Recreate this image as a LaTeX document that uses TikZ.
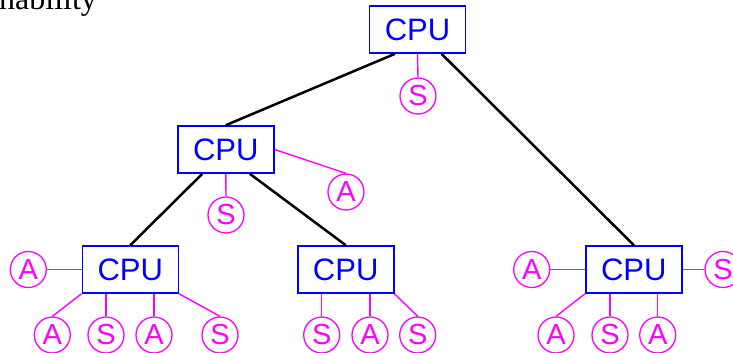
\documentclass[tikz,border=0pt]{standalone}
\usepackage{fontspec}
\newfontfamily\sansf{Liberation Sans}
\newfontfamily\seriff{Liberation Serif}
\definecolor{cpublue}{RGB}{0,0,255}
\definecolor{unitmag}{RGB}{255,0,255}
\tikzset{
  cpu/.style={draw=cpublue, line width=1.6pt, text=cpublue, minimum width=96pt,
    minimum height=47pt, inner sep=0pt, font=\sansf\fontsize{31}{31}\selectfont},
  unit/.style={circle, draw=unitmag, line width=1.3pt, text=unitmag, minimum size=36pt,
    inner sep=0pt, font=\sansf\fontsize{29}{29}\selectfont},
  link/.style={black, line width=2.5pt},
  attach/.style={unitmag, line width=1.4pt},
}
\begin{document}
\begin{tikzpicture}[x=1pt, y=-1pt]
\useasboundingbox (0,0) rectangle (733,353);
\clip (0,0) rectangle (733,353);

% partial heading at the top left
\node[anchor=base west, inner sep=0pt, font=\seriff\fontsize{32}{32}\selectfont] (head) at (-1,10) {nability};

% processors
\node[cpu] (top) at (417.5,29.5) {CPU};
\node[cpu] (mid) at (225.8,149.5) {CPU};
\node[cpu] (bl) at (130.3,269.5) {CPU};
\node[cpu] (bm) at (345.7,269.5) {CPU};
\node[cpu] (br) at (633.8,269.5) {CPU};

% tree links
\draw[link] ([xshift=-22.5pt]top.south) -- (mid.north);
\draw[link] ([xshift=24pt]top.south) -- (br.north);
\draw[link] ([xshift=-23.5pt]mid.south) -- (bl.north);
\draw[link] ([xshift=24pt]mid.south) -- (bm.north);

% units on the top processor
\node[unit] (tS) at (418,96) {S};
\draw[attach] (top.south) -- (tS.north);

% units on the middle processor
\node[unit] (mS) at (226,215) {S};
\node[unit] (mA) at (346,192) {A};
\draw[attach] (mid.south) -- (mS.north);
\draw[attach] (mid.east) -- (mA.north);

% units on the bottom-left processor
\node[unit] (blA0) at (28.3,269.5) {A};
\node[unit] (blA1) at (52.3,335) {A};
\node[unit] (blS1) at (106,335) {S};
\node[unit] (blA2) at (154,335) {A};
\node[unit] (blS2) at (220,335) {S};
\draw[attach] (blA0.east) -- (bl.west);
\draw[attach] (bl.south west) -- (blA1.north);
\draw[attach] (blS1.north |- bl.south) -- (blS1.north);
\draw[attach] (blA2.north |- bl.south) -- (blA2.north);
\draw[attach] (bl.south east) -- (blS2.north);

% units on the bottom-middle processor
\node[unit] (bmS1) at (321.7,335) {S};
\node[unit] (bmA1) at (370,335) {A};
\node[unit] (bmS2) at (417.7,335) {S};
\draw[attach] (bmS1.north |- bm.south) -- (bmS1.north);
\draw[attach] (bmA1.north |- bm.south) -- (bmA1.north);
\draw[attach] (bm.south east) -- (bmS2.north);

% units on the right processor
\node[unit] (brA0) at (531.7,269.5) {A};
\node[unit] (brS0) at (723,269.5) {S};
\node[unit] (brA1) at (556,335) {A};
\node[unit] (brS1) at (610,335) {S};
\node[unit] (brA2) at (657.7,335) {A};
\draw[attach] (brA0.east) -- (br.west);
\draw[attach] (br.east) -- (brS0.west);
\draw[attach] (br.south west) -- (brA1.north);
\draw[attach] (brS1.north |- br.south) -- (brS1.north);
\draw[attach] (brA2.north |- br.south) -- (brA2.north);
\end{tikzpicture}
\end{document}
